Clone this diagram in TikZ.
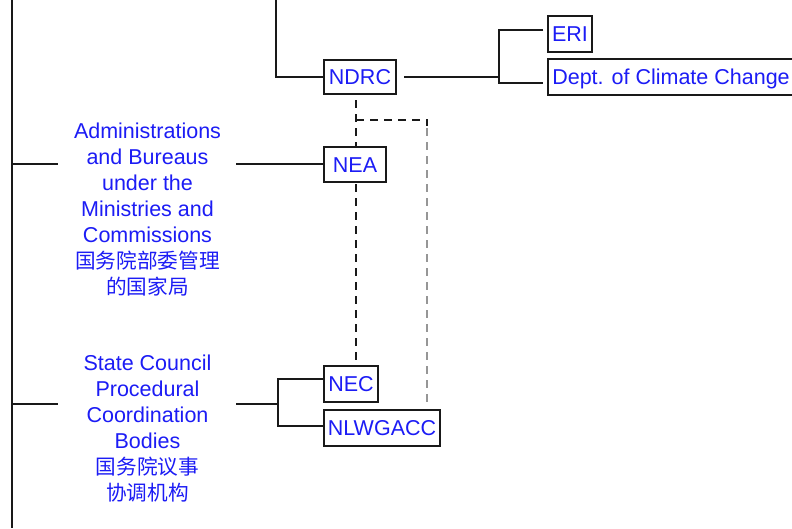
\documentclass[tikz,border=0pt]{standalone}
\usepackage{fontspec}
\setmainfont{Liberation Sans}
\newfontfamily\cjk[Scale=0.96]{Noto Sans CJK SC}
\definecolor{txtblue}{RGB}{28,28,245}
\definecolor{lnk}{RGB}{25,25,25}
\definecolor{dgray}{RGB}{150,150,150}
\begin{document}
\begin{tikzpicture}[x=1pt,y=-1pt,
  conn/.style={draw=lnk,line width=1.8pt},
  dsh/.style={draw=lnk,line width=1.8pt,dash pattern=on 8pt off 6pt},
  gdsh/.style={draw=dgray,line width=1.8pt,dash pattern=on 8pt off 6pt},
  box/.style={draw=lnk,line width=1.8pt,fill=white,inner sep=0pt,
    text=txtblue,font=\fontsize{21.5pt}{26pt}\selectfont,
    text height=15.5pt,text depth=0pt},
  lbl/.style={align=center,text=txtblue,inner sep=0pt,anchor=north,
    font=\fontsize{21.5pt}{26pt}\selectfont}]
\useasboundingbox (0,0) rectangle (792,528);
\fill[white] (0,0) rectangle (792,528);

% coordinates for free ends
\coordinate (trunkTop) at (12,0);
\coordinate (trunkBot) at (12,528);
\coordinate (tA) at (12,164);
\coordinate (tAe) at (58,164);
\coordinate (tB) at (12,404);
\coordinate (tBe) at (58,404);
\coordinate (topS) at (276,0);
\coordinate (aR) at (236,164);
\coordinate (sR) at (236,404);
\coordinate (sJ) at (278,404);
\coordinate (sJt) at (278,379);
\coordinate (sJb) at (278,426);
\coordinate (nR) at (404,77);
\coordinate (nJ) at (499,77);
\coordinate (nJt) at (499,30);
\coordinate (nJb) at (499,83);
\coordinate (eriS) at (543,30);
\coordinate (deptS) at (543,83);
\coordinate (dTop) at (356,100);
\coordinate (dJ) at (356,120);
\coordinate (dC) at (427,120);
\coordinate (dCt) at (427,126);
\coordinate (gTop) at (427,128);
\coordinate (gBot) at (427,406);
\coordinate (dBot) at (356,363);

% dashed links (behind boxes)
\draw[dsh] (dTop) -- (dBot);
\draw[dsh] (dJ) -- (dC) -- (dCt);
\draw[gdsh] (gTop) -- (gBot);

% labels
\node[lbl] (admin) at (147.5,122.5) {Administrations\\and Bureaus\\under the\\Ministries and\\Commissions\\{\cjk 国务院部委管理}\\{\cjk 的国家局}};
\node[lbl] (state) at (147.5,355) {State Council\\Procedural\\Coordination\\Bodies\\{\cjk 国务院议事}\\{\cjk 协调机构}};

% boxes
\node[box,minimum width=72pt,minimum height=34pt] (ndrc) at (360,77) {NDRC};
\node[box,minimum width=44pt,minimum height=36pt] (eri) at (570,34) {ERI};
\node[box,minimum width=246pt,minimum height=36pt] (dept) at (671,77) {Dept. of Climate Change};
\node[box,minimum width=62pt,minimum height=35pt] (nea) at (355,164.5) {NEA};
\node[box,minimum width=54pt,minimum height=36pt] (nec) at (351,384) {NEC};
\node[box,minimum width=116pt,minimum height=36pt] (nlw) at (382,428) {NLWGACC};

% solid connectors
\draw[conn] (trunkTop) -- (trunkBot);
\draw[conn] (tA) -- (tAe);
\draw[conn] (tB) -- (tBe);
\draw[conn] (topS) |- (ndrc.west);
\draw[conn] (aR) -- (aR -| nea.west);
\draw[conn] (nR) -- (nJ);
\draw[conn] (eriS) -- (nJt) -- (nJb) -- (deptS);
\draw[conn] (sR) -- (sJ);
\draw[conn] (sJt -| nec.west) -- (sJt) -- (sJb) -- (sJb -| nlw.west);
\end{tikzpicture}
\end{document}
